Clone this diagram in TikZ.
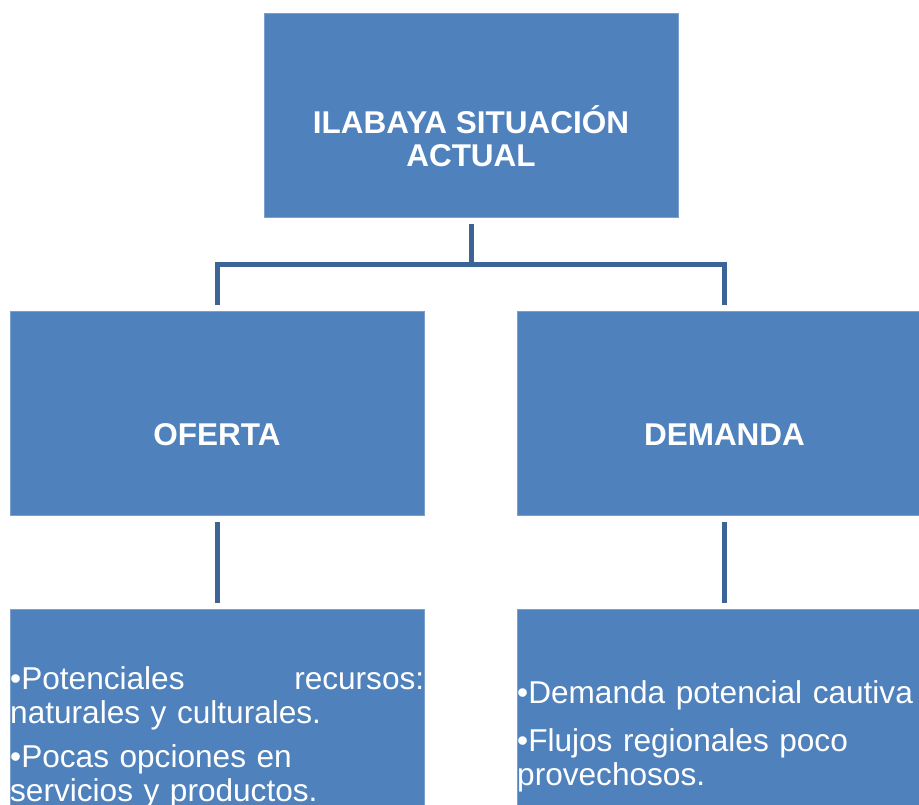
\documentclass[tikz,border=0pt]{standalone}
\usepackage{fontspec}
\setmainfont{Liberation Sans}
\definecolor{cajaazul}{HTML}{4F81BD}
\definecolor{lineaazul}{HTML}{3C6496}
\begin{document}
\begin{tikzpicture}[x=1pt, y=1pt,
    caja/.style={fill=cajaazul, draw=cajaazul!75!white, minimum width=414pt, minimum height=204pt, inner sep=0pt},
    titulo/.style={text=white, font=\fontsize{31.5}{33}\selectfont\bfseries, align=center},
    texto/.style={text=white, font=\fontsize{31.6}{34}\selectfont, text width=414pt, align=left, inner sep=0pt, anchor=north west},
    linea/.style={draw=lineaazul, line width=5pt}]
    \useasboundingbox (0,0) rectangle (919,805);
    % cajas
    \node[caja] (ilabaya) at (471,690) {};
    \node[caja] (oferta) at (217,392) {};
    \node[caja, minimum width=415pt] (demanda) at (724.5,392) {};
    \node[caja] (ofertaD) at (217,94) {};
    \node[caja, minimum width=415pt] (demandaD) at (724.5,94) {};
    % textos
    \node[titulo] (ilabayaT) at (471,669) {ILABAYA SITUACIÓN\\ACTUAL};
    \node[titulo] (ofertaT) at (217,370) {OFERTA};
    \node[titulo] (demandaT) at (724.5,370) {DEMANDA};
    \node[texto] (ofertaL) at (10,139) {•Potenciales\hskip0pt plus1fill recursos:\\naturales y culturales.\\[10pt]•Pocas opciones en\\servicios y productos.};
    \node[texto] (demandaL) at (517,125) {•Demanda potencial cautiva\\[14pt]•Flujos regionales poco\\provechosos.};
    % conectores
    \coordinate (rama) at (471,540);
    \draw[linea, shorten <=7pt] (ilabaya.south) -- (rama);
    \draw[linea, shorten <=6pt, shorten >=6pt] (oferta.north) |- (rama) -| (demanda.north);
    \foreach \a/\b in {oferta/ofertaD, demanda/demandaD}
        \draw[linea, shorten <=7pt, shorten >=6pt] (\a.south) -- (\b.north);
\end{tikzpicture}
\end{document}
